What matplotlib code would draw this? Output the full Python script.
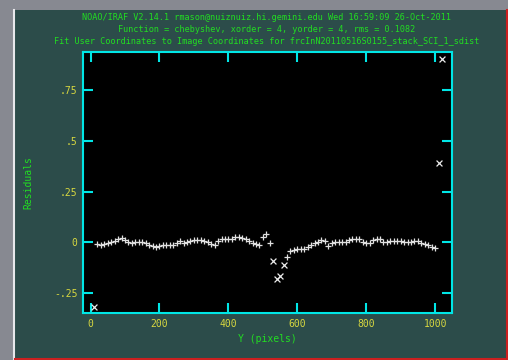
import matplotlib
matplotlib.use("Agg")
import matplotlib.pyplot as plt
from matplotlib.patches import Rectangle
from matplotlib.lines import Line2D

# fitted points (pixel Y, residual)
good_x = [20, 30, 40, 50, 60, 70, 80, 90, 100, 110, 120, 130, 140, 150, 160, 170,
          180, 190, 200, 210, 220, 230, 240, 250, 260, 270, 280, 290, 300, 310, 320,
          330, 340, 350, 360, 370, 380, 390, 400, 410, 420, 430, 440, 450, 460, 470,
          480, 490, 500, 510, 520,
          570, 580, 590, 600, 610, 620, 630, 640, 650, 660, 670, 680, 690, 700, 710,
          720, 730, 740, 750, 760, 770, 780, 790, 800, 810, 820, 830, 840, 850, 860,
          870, 880, 890, 900, 910, 920, 930, 940, 950, 960, 970, 980, 990, 1000]
good_y = [-0.008, -0.012, -0.010, -0.004, 0.002, 0.006, 0.015, 0.021, 0.012, 0.000,
          -0.006, 0.000, 0.002, 0.001, -0.004, -0.013, -0.020, -0.022, -0.017, -0.015,
          -0.015, -0.014, -0.014, -0.003, 0.007, -0.005, 0.000, 0.004, 0.010, 0.011,
          0.010, 0.007, 0.001, -0.010, -0.013, 0.005, 0.018, 0.018, 0.017, 0.018,
          0.028, 0.027, 0.022, 0.015, 0.008, -0.002, -0.009, -0.014, 0.026, 0.038,
          -0.003,
          -0.072, -0.045, -0.040, -0.036, -0.035, -0.033, -0.022, -0.012, -0.006,
          -0.001, 0.010, 0.004, -0.021, -0.006, 0.000, 0.002, 0.002, 0.003, 0.011,
          0.014, 0.018, 0.016, 0.003, -0.002, -0.002, 0.012, 0.018, 0.016, 0.003,
          0.003, 0.007, 0.007, 0.006, 0.004, 0.002, 0.003, 0.002, 0.005, 0.006,
          -0.002, -0.008, -0.015, -0.022, -0.030]

# rejected points
rej_x = [10, 530, 540, 550, 560, 1010, 1020]
rej_y = [-0.32, -0.094, -0.182, -0.168, -0.114, 0.392, 0.905]

xticks = [0, 200, 400, 600, 800, 1000]
yticks = [-0.25, 0, 0.25, 0.5, 0.75]
ytick_labels = ["-.25", "0", ".25", ".5", ".75"]

title_lines = [
    "NOAO/IRAF V2.14.1 rmason@nuiznuiz.hi.gemini.edu Wed 16:59:09 26-Oct-2011",
    "Function = chebyshev, xorder = 4, yorder = 4, rms = 0.1082",
    "Fit User Coordinates to Image Coordinates for frcInN20110516S0155_stack_SCI_1_sdist",
]

W, H = 508, 360
cyan = "#00e6e6"
green = "#22dd22"
yellow = "#d8d840"
font = "DejaVu Sans Mono"

fig = plt.figure(figsize=(W / 100, H / 100), dpi=100)
fig.patch.set_facecolor("#878991")

# window panel
fig.patches.append(Rectangle((15 / W, 2 / H), 491 / W, 348 / H, transform=fig.transFigure,
                             facecolor="#2c4c4a", edgecolor="none", zorder=-5))
fig.lines.append(Line2D([14 / W, 14 / W], [0, 350 / H], transform=fig.transFigure,
                        color="#e8e8ec", lw=1.5, zorder=-4))
fig.lines.append(Line2D([506.5 / W, 506.5 / W], [0, 350 / H], transform=fig.transFigure,
                        color="#cc2020", lw=1.5, zorder=-4))
fig.lines.append(Line2D([15 / W, 1], [1.5 / H, 1.5 / H], transform=fig.transFigure,
                        color="#cc2020", lw=1.5, zorder=-4))

ax = fig.add_axes([83 / W, 47 / H, 369 / W, 261 / H])
ax.set_zorder(2)
ax.set_facecolor("black")

ax.scatter(good_x, good_y, marker="+", s=18, color="#e0e0e0", linewidths=0.9, zorder=3)
ax.scatter(rej_x, rej_y, marker="x", s=18, color="#ececec", linewidths=0.9, zorder=3)

ax.set_xlim(-22, 1049)
ax.set_ylim(-0.35, 0.94)

ax.set_xticks(xticks)
ax.set_xticklabels([str(t) for t in xticks])
ax.set_yticks(yticks)
ax.set_yticklabels(ytick_labels)
ax.tick_params(direction="in", length=7, width=1.5, color=cyan, labelcolor=yellow,
               labelsize=7, top=True, right=True, pad=4)
for lab in ax.get_xticklabels() + ax.get_yticklabels():
    lab.set_family(font)
for sp in ax.spines.values():
    sp.set_color(cyan)
    sp.set_linewidth(1.5)

ax.set_xlabel("Y (pixels)", color=green, fontsize=7, family=font, labelpad=4)
ax.set_ylabel("Residuals", color=green, fontsize=7, family=font, labelpad=15)

ys = [342, 330, 319]
for line, y in zip(title_lines, ys):
    fig.text(267 / W, y / H, line, ha="center", va="center", color=green,
             fontsize=6.1, family=font)

fig.savefig("out.png", dpi=100, facecolor=fig.get_facecolor())
